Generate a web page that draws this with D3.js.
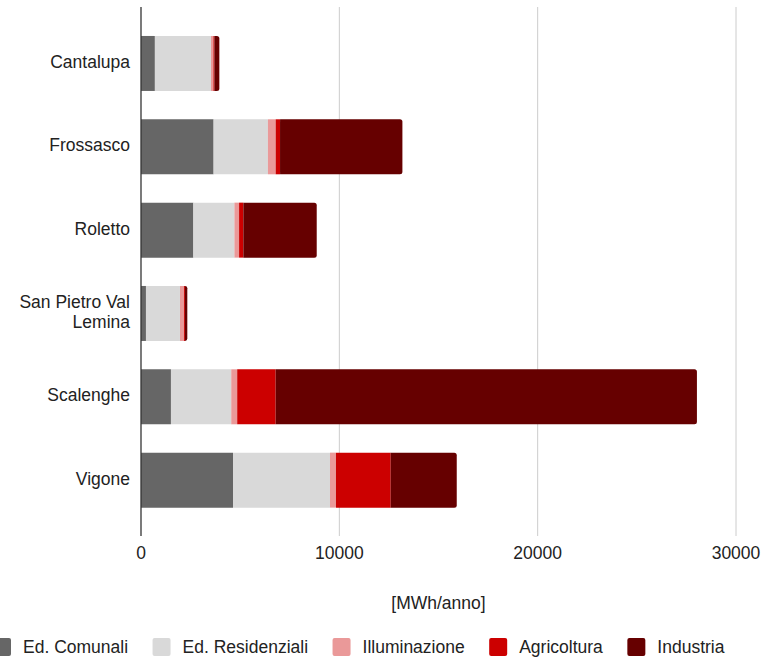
<!DOCTYPE html>
<html>
<head>
<meta charset="utf-8">
<script src="https://cdn.jsdelivr.net/npm/d3@7"></script>
<style>
  html, body { margin: 0; padding: 0; background: #fff; }
  svg { display: block; font-family: "Liberation Sans", Arial, sans-serif; }
</style>
</head>
<body>
<svg id="chart" width="764" height="657"></svg>
<script>
// Energy consumption by municipality and sector [MWh/anno]
const comuni = ["Cantalupa", "Frossasco", "Roletto", "San Pietro Val Lemina", "Scalenghe", "Vigone"];
const settori = ["Ed. Comunali", "Ed. Residenziali", "Illuminazione", "Agricoltura", "Industria"];
const colori = ["#666666", "#d9d9d9", "#ea9999", "#cc0000", "#660000"];

const edComunali     = [700, 3660, 2640, 250, 1510, 4640];
const edResidenziali = [2830, 2740, 2070, 1715, 3040, 4890];
const illuminazione  = [120, 390, 235, 200, 300, 300];
const agricoltura    = [50, 220, 215, 50, 1940, 2760];
const industria      = [250, 6170, 3700, 120, 21240, 3330];

const xTicks = [0, 10000, 20000, 30000];
const xTitle = "[MWh/anno]";

const serie = [edComunali, edResidenziali, illuminazione, agricoltura, industria];

const svg = d3.select("#chart");
const textColor = "#222222";
const fontSize = 17.5;

const plot = { left: 141, right: 736, top: 7, bottom: 536 };

const x = d3.scaleLinear().domain([0, 30000]).range([plot.left, plot.right]);
const y = d3.scaleBand().domain(comuni).range([21.8, 521.8])
  .paddingInner(0.34).paddingOuter(0.17);

// gridlines
svg.append("g").selectAll("line")
  .data(xTicks.filter(t => t > 0))
  .join("line")
  .attr("x1", d => x(d)).attr("x2", d => x(d))
  .attr("y1", plot.top).attr("y2", plot.bottom)
  .attr("stroke", "#cccccc").attr("stroke-width", 1);

// stacked data
const rows = comuni.map((c, i) => {
  const o = { comune: c };
  settori.forEach((s, j) => { o[s] = serie[j][i]; });
  return o;
});
const stacked = d3.stack().keys(settori)(rows);

const r = 2.5;
function segPath(x0, x1, y0, h, rounded) {
  if (!rounded) return `M${x0},${y0}H${x1}V${y0 + h}H${x0}Z`;
  const rr = Math.min(r, (x1 - x0));
  return `M${x0},${y0}H${x1 - rr}Q${x1},${y0} ${x1},${y0 + rr}V${y0 + h - rr}Q${x1},${y0 + h} ${x1 - rr},${y0 + h}H${x0}Z`;
}

const gBars = svg.append("g");
stacked.forEach((layer, li) => {
  gBars.append("g").attr("fill", colori[li])
    .selectAll("path")
    .data(layer)
    .join("path")
    .attr("d", d => segPath(x(d[0]), x(d[1]), y(d.data.comune), y.bandwidth(), li === settori.length - 1));
});

// baseline axis
svg.append("line")
  .attr("x1", x(0)).attr("x2", x(0))
  .attr("y1", plot.top).attr("y2", plot.bottom)
  .attr("stroke", "#333333").attr("stroke-width", 1.3);

// category labels (long name wrapped on two lines)
const gLab = svg.append("g").attr("font-size", fontSize).attr("fill", textColor).attr("text-anchor", "end");
comuni.forEach(c => {
  const lines = c === "San Pietro Val Lemina" ? ["San Pietro Val", "Lemina"] : [c];
  const cy = y(c) + y.bandwidth() / 2 - 1.5;
  const lh = 20;
  lines.forEach((ln, k) => {
    gLab.append("text")
      .attr("x", 130)
      .attr("y", cy + (k - (lines.length - 1) / 2) * lh)
      .attr("dy", "0.35em")
      .text(ln);
  });
});

// x tick labels
svg.append("g").attr("font-size", fontSize).attr("fill", textColor).attr("text-anchor", "middle")
  .selectAll("text").data(xTicks).join("text")
  .attr("x", d => x(d)).attr("y", 553).attr("dy", "0.35em")
  .text(d => d);

// axis title
svg.append("text")
  .attr("x", (plot.left + plot.right) / 2).attr("y", 603).attr("dy", "0.35em")
  .attr("text-anchor", "middle").attr("font-size", fontSize).attr("fill", textColor)
  .text(xTitle);

// legend
const gLeg = svg.append("g").attr("font-size", fontSize).attr("fill", textColor);
let lx = -7;
settori.forEach((s, i) => {
  gLeg.append("rect")
    .attr("x", lx).attr("y", 638).attr("width", 18).attr("height", 18)
    .attr("rx", 2).attr("fill", colori[i]);
  const t = gLeg.append("text")
    .attr("x", lx + 30).attr("y", 647).attr("dy", "0.35em")
    .text(s);
  const w = t.node().getComputedTextLength();
  lx = lx + 30 + w + 24.5;
});
</script>
</body>
</html>
